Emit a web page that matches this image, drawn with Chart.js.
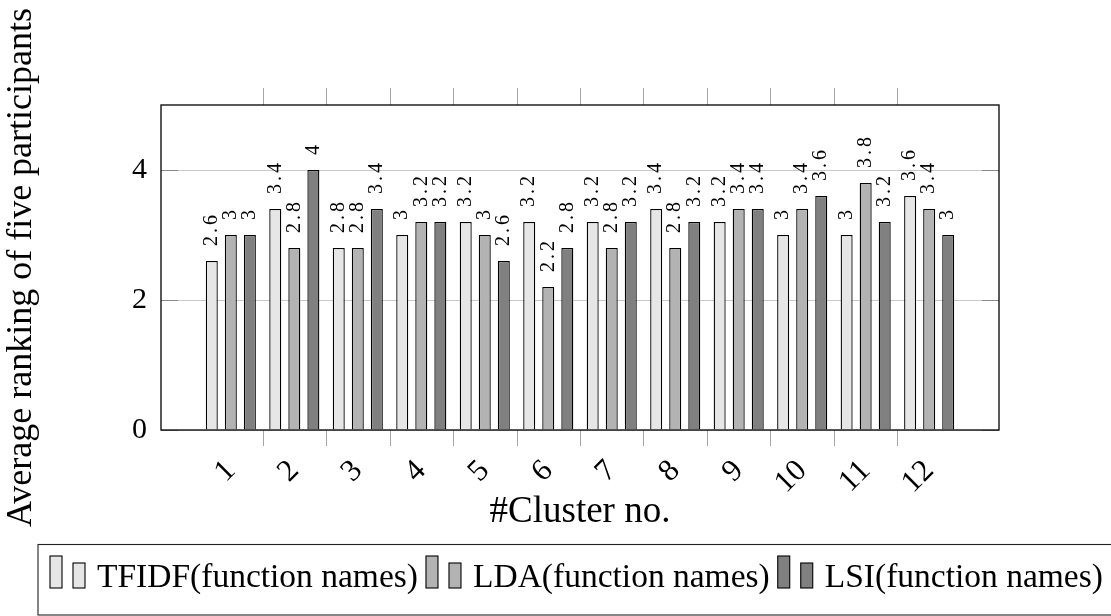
<!DOCTYPE html>
<html lang="en">
<head>
    <meta charset="UTF-8">
    <title>Average ranking per cluster</title>
    <script src="https://cdn.jsdelivr.net/npm/chart.js"></script>
    <style>
        body {
            margin: 0;
            background: #ffffff;
        }

        .chart-box {
            position: relative;
            width: 1111px;
            height: 616px;
        }
    </style>
</head>
<body>
    <div class="chart-box">
        <canvas id="myChart"></canvas>
    </div>

    <script>
        const clusters = ['1', '2', '3', '4', '5', '6', '7', '8', '9', '10', '11', '12'];
        const tfidf = [2.6, 3.4, 2.8, 3, 3.2, 3.2, 3.2, 3.4, 3.2, 3, 3, 3.6];
        const lda = [3, 2.8, 2.8, 3.2, 3, 2.2, 2.8, 2.8, 3.4, 3.4, 3.8, 3.4];
        const lsi = [3, 4, 3.4, 3.2, 2.6, 2.8, 3.2, 3.2, 3.4, 3.6, 3.2, 3];
        const seriesNames = ['TFIDF(function names)', 'LDA(function names)', 'LSI(function names)'];
        const fillColors = ['#e6e6e6', '#b3b3b3', '#808080'];
        const yTicks = [0, 2, 4];

        const serif = '"Liberation Serif", "Times New Roman", serif';

        function points(values) {
            return values.map((v, i) => ({ x: i + 1, y: v }));
        }

        function line(ctx, x1, y1, x2, y2) {
            ctx.beginPath();
            ctx.moveTo(x1, y1);
            ctx.lineTo(x2, y2);
            ctx.stroke();
        }

        // pgfplots-like extras: inner y ticks, value labels, frame, outer x ticks, legend box
        const decorations = {
            id: 'decorations',
            beforeDatasetsDraw(chart) {
                const { ctx, chartArea: a, scales: { y } } = chart;
                ctx.save();
                ctx.strokeStyle = '#8a8a8a';
                ctx.lineWidth = 1;
                yTicks.forEach(v => {
                    const py = Math.round(y.getPixelForValue(v)) + 0.5;
                    line(ctx, a.left, py, a.left + 17, py);
                    line(ctx, a.right - 17, py, a.right, py);
                });
                ctx.restore();
            },
            afterDatasetsDraw(chart) {
                const ctx = chart.ctx;
                ctx.save();
                ctx.fillStyle = '#000';
                ctx.font = '20px ' + serif;
                ctx.letterSpacing = '3px';
                ctx.textAlign = 'left';
                ctx.textBaseline = 'middle';
                chart.data.datasets.forEach((ds, di) => {
                    chart.getDatasetMeta(di).data.forEach((bar, i) => {
                        ctx.save();
                        ctx.translate(bar.x, bar.y - 15);
                        ctx.rotate(-Math.PI / 2);
                        ctx.fillText(String(ds.data[i].y), 0, 0);
                        ctx.restore();
                    });
                });
                ctx.restore();
            },
            afterDraw(chart) {
                const { ctx, chartArea: a, scales: { x } } = chart;
                ctx.save();

                // tick marks between groups, outside the frame
                ctx.strokeStyle = '#a6a6a6';
                ctx.lineWidth = 1;
                for (let i = 1; i < clusters.length; i++) {
                    const px = Math.round(x.getPixelForValue(i + 0.5)) + 0.5;
                    line(ctx, px, a.top - 17, px, a.top);
                    line(ctx, px, a.bottom, px, a.bottom + 16);
                }

                // frame
                ctx.strokeStyle = '#000';
                ctx.lineWidth = 1.3;
                ctx.strokeRect(a.left, a.top, a.right - a.left, a.bottom - a.top);

                // legend
                ctx.lineWidth = 1.1;
                ctx.strokeStyle = '#222';
                ctx.strokeRect(38, 544.5, 1100, 70.5);
                ctx.font = '33.5px ' + serif;
                ctx.textBaseline = 'alphabetic';
                ctx.textAlign = 'left';
                let cx = 50;
                seriesNames.forEach((name, k) => {
                    ctx.fillStyle = fillColors[k];
                    ctx.strokeStyle = '#000';
                    ctx.fillRect(cx, 556, 12, 32);
                    ctx.strokeRect(cx, 556, 12, 32);
                    ctx.fillRect(cx + 23, 563, 12, 25);
                    ctx.strokeRect(cx + 23, 563, 12, 25);
                    ctx.fillStyle = '#000';
                    ctx.fillText(name, cx + 47, 587);
                    cx += 47 + ctx.measureText(name).width + 8;
                });
                ctx.restore();
            }
        };

        const makeSet = (label, values, k) => ({
            label: label,
            data: points(values),
            backgroundColor: fillColors[k],
            borderColor: '#000',
            borderWidth: 1.3,
            categoryPercentage: 0.9,
            barPercentage: 0.63
        });

        const ctx = document.getElementById('myChart').getContext('2d');
        const myChart = new Chart(ctx, {
            type: 'bar',
            data: {
                datasets: [
                    makeSet(seriesNames[0], tfidf, 0),
                    makeSet(seriesNames[1], lda, 1),
                    makeSet(seriesNames[2], lsi, 2)
                ]
            },
            options: {
                responsive: true,
                maintainAspectRatio: false,
                animation: false,
                layout: {
                    padding: { top: 105, right: 112, left: 0, bottom: 0 }
                },
                plugins: {
                    legend: { display: false },
                    tooltip: { enabled: false }
                },
                scales: {
                    x: {
                        type: 'linear',
                        offset: false,
                        min: -0.1,
                        max: 13.1,
                        grid: { display: false },
                        border: { display: false },
                        afterBuildTicks: s => {
                            s.ticks = clusters.map((c, i) => ({ value: i + 1 }));
                        },
                        afterFit: s => {
                            s.height = 186;
                            s.paddingLeft = 0;
                            s.paddingRight = 0;
                        },
                        ticks: {
                            autoSkip: false,
                            minRotation: 45,
                            maxRotation: 45,
                            padding: 15,
                            color: '#000',
                            font: { family: serif, size: 31 },
                            callback: (v, i) => clusters[i]
                        },
                        title: {
                            display: true,
                            text: '#Cluster no.',
                            color: '#000',
                            font: { family: serif, size: 37 },
                            padding: { top: 0, bottom: 82 }
                        }
                    },
                    y: {
                        min: 0,
                        max: 5,
                        afterBuildTicks: s => {
                            s.ticks = yTicks.map(v => ({ value: v }));
                        },
                        afterFit: s => {
                            s.width = 161;
                        },
                        grid: { color: '#c8c8c8', drawTicks: false },
                        border: { display: false },
                        ticks: {
                            padding: 14,
                            color: '#000',
                            font: { family: serif, size: 30 }
                        },
                        title: {
                            display: true,
                            text: 'Average ranking of five participants',
                            color: '#000',
                            font: { family: serif, size: 36 },
                            padding: { top: 0, bottom: 0 }
                        }
                    }
                }
            },
            plugins: [decorations]
        });
    </script>
</body>
</html>
